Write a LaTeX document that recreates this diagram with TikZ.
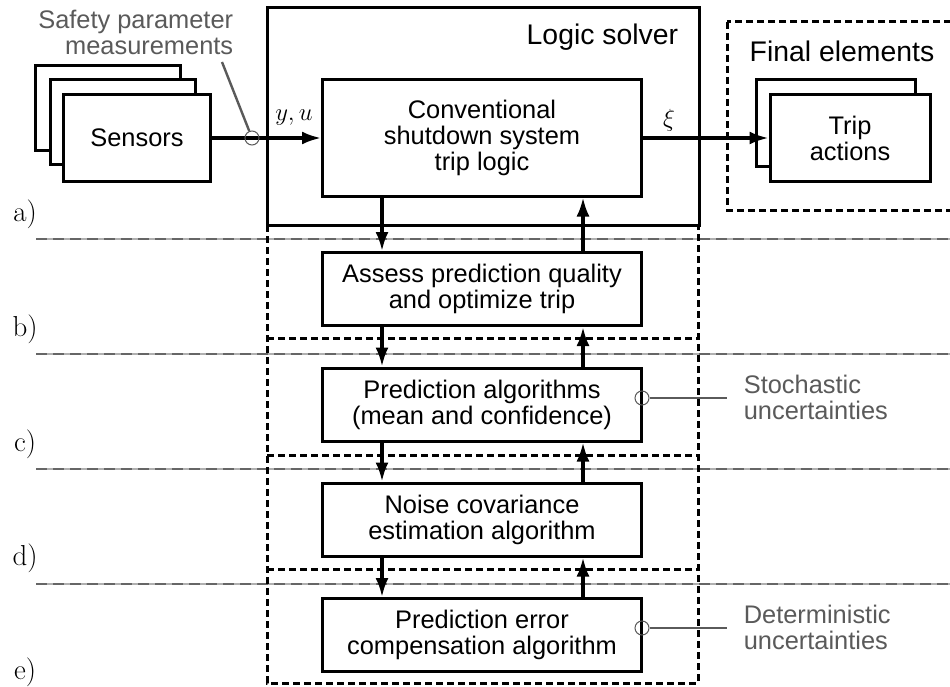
\documentclass[tikz,border=0pt]{standalone}
\usepackage{fontspec}
\newfontfamily\arialfont{Liberation Sans}
\usetikzlibrary{arrows.meta}
\definecolor{leadgray}{HTML}{5A5A5A}
\definecolor{sepdark}{HTML}{666666}
\definecolor{seplight}{HTML}{B0B0B0}
\begin{document}
\begin{tikzpicture}[x=1bp,y=-1bp, line width=3bp,
  txt/.style={font=\arialfont\fontsize{25.5}{26}\selectfont},
  bigtxt/.style={font=\arialfont\fontsize{28.5}{30}\selectfont},
  blk/.style={txt, draw, line width=3bp, fill=white, minimum width=319bp, minimum height=73bp, inner sep=0pt, align=center},
  stackbox/.style={draw, line width=3bp, fill=white, inner sep=0pt, align=center, txt},
  arr/.style={line width=3.2bp, -{Latex[length=19bp,width=13bp]}},
  dbox/.style={line width=3bp, dash pattern=on 7bp off 4bp},
  lead/.style={draw=leadgray, line width=2.4bp},
  ring/.style={circle, draw=leadgray, line width=1bp, minimum size=14bp, inner sep=0pt},
  graytxt/.style={txt, text=leadgray},
  tag/.style={font=\fontsize{29}{32}\selectfont},
  mth/.style={font=\fontsize{29}{32}\selectfont}
]
\useasboundingbox (0,0) rectangle (950,687);
\clip (0,0) rectangle (950,687);
\fill[white] (0,0) rectangle (950,687);

% separators
\foreach \yy in {239,354,469,584}{
  \draw[seplight, line width=2.4bp] (36,\yy) -- (960,\yy);
  \draw[sepdark, line width=2.4bp, dash pattern=on 11bp off 6bp] (36,\yy) -- (960,\yy);
}

% nested dashed boxes
\draw[dbox] (267,225) rectangle (698,683);
\draw[dbox] (267,338) -- (698,338);
\draw[dbox] (267,455) -- (698,455);
\draw[dbox] (267,569) -- (698,569);

% logic solver
\draw[line width=3bp] (267,8) rectangle (699,225);
\node[bigtxt, anchor=east] (ls) at (683,37) {Logic solver};

% final elements
\draw[dbox] (727,22) rectangle (970,210);
\node[bigtxt] (fe) at (842,51) {Final elements};

% sensors stack
\draw[line width=3bp, fill=white] (35,66) rectangle (180,151);
\draw[line width=3bp, fill=white] (50,80) rectangle (195,165);
\node[stackbox, minimum width=146bp, minimum height=86bp] (sens) at (137,138) {Sensors};

% trip actions stack
\draw[line width=3bp, fill=white] (756,80) rectangle (915,167);
\node[stackbox, minimum width=160bp, minimum height=87bp] (trip) at (850,138) {Trip\\actions};

% main blocks
\node[blk, minimum height=116bp] (conv) at (482,138) {Conventional\\shutdown system\\trip logic};
\node[blk] (assess) at (482,289) {Assess prediction quality\\and optimize trip};
\node[blk] (pred) at (482,404.5) {Prediction algorithms\\(mean and confidence)};
\node[blk] (noise) at (482,519.5) {Noise covariance\\estimation algorithm};
\node[blk] (err) at (482,635) {Prediction error\\compensation algorithm};

% vertical arrows
\coordinate (dx) at (382,0);
\coordinate (ux) at (583,0);
\draw[arr] (conv.south -| dx) -- (assess.north -| dx);
\draw[arr] (assess.north -| ux) -- (conv.south -| ux);
\draw[arr] (assess.south -| dx) -- (pred.north -| dx);
\draw[arr] (pred.north -| ux) -- (assess.south -| ux);
\draw[arr] (pred.south -| dx) -- (noise.north -| dx);
\draw[arr] (noise.north -| ux) -- (pred.south -| ux);
\draw[arr] (noise.south -| dx) -- (err.north -| dx);
\draw[arr] (err.north -| ux) -- (noise.south -| ux);

% horizontal arrows
\draw[arr] (sens.east) -- (conv.west);
\draw[arr] (conv.east) -- (trip.west);
\node[mth] (yu) at (294,118) {$y,u$};
\node[mth] (xi) at (669,120) {$\xi$};

% safety parameter measurements
\node[ring] (c1) at (252,138) {};
\coordinate (sp) at (222,62);
\draw[lead] (c1) -- (sp);
\node[graytxt, align=right, anchor=east] (spm) at (238,32) {Safety parameter\\measurements};

% stochastic
\node[ring] (c2) at (642,398) {};
\coordinate (st) at (727,398);
\draw[lead] (c2) -- (st);
\node[graytxt, align=left, anchor=west] (stt) at (739,397) {Stochastic\\uncertainties};

% deterministic
\node[ring] (c3) at (642,628) {};
\coordinate (dt) at (727,628);
\draw[lead] (c3) -- (dt);
\node[graytxt, align=left, anchor=west] (dtt) at (739,627) {Deterministic\\uncertainties};

% level tags
\node[tag] (ta) at (25,214) {a)};
\node[tag] (tb) at (25,329) {b)};
\node[tag] (tc) at (25,444) {c)};
\node[tag] (td) at (25,558) {d)};
\node[tag] (te) at (25,672) {e)};
\end{tikzpicture}
\end{document}
